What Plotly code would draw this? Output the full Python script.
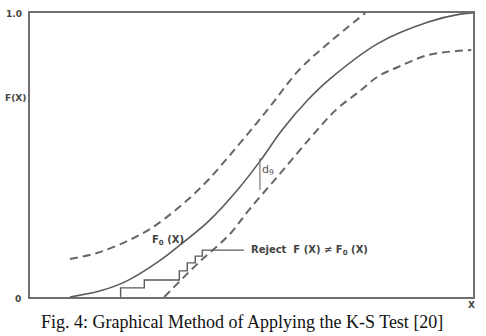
import plotly.graph_objects as go

# Hypothesised CDF F0(x) (solid)
f0_x = [0.090, 0.157, 0.218, 0.292, 0.344, 0.404, 0.472, 0.521, 0.569, 0.629, 0.674, 0.787, 0.899, 0.971, 1.0]
f0_y = [0.000, 0.021, 0.056, 0.127, 0.190, 0.268, 0.384, 0.482, 0.588, 0.697, 0.764, 0.894, 0.968, 0.996, 1.0]

# Upper confidence band (dashed)
up_x = [0.090, 0.151, 0.225, 0.285, 0.382, 0.465, 0.539, 0.607, 0.674, 0.757]
up_y = [0.134, 0.155, 0.201, 0.254, 0.380, 0.525, 0.665, 0.799, 0.894, 1.0]

# Lower confidence band (dashed)
lo_x = [0.303, 0.382, 0.449, 0.494, 0.562, 0.629, 0.690, 0.742, 0.787, 0.831, 0.899, 0.996]
lo_y = [0.000, 0.123, 0.218, 0.306, 0.430, 0.553, 0.658, 0.722, 0.778, 0.810, 0.852, 0.870]

# Empirical step function
st_x = [0.2045, 0.2045, 0.258, 0.337, 0.355, 0.373, 0.389, 0.483]
st_y = [0.000, 0.032, 0.060, 0.092, 0.120, 0.144, 0.165, 0.165]

# d9 deviation segment
d_x = [0.519, 0.519]
d_y = [0.489, 0.377]

line_col = "#5a5a5a"
fig = go.Figure()
fig.add_trace(go.Scatter(x=f0_x, y=f0_y, mode="lines", line=dict(color=line_col, width=1.6, shape="spline"), hoverinfo="skip"))
fig.add_trace(go.Scatter(x=up_x, y=up_y, mode="lines", line=dict(color="#666666", width=2, dash="8px,5px", shape="spline"), hoverinfo="skip"))
fig.add_trace(go.Scatter(x=lo_x, y=lo_y, mode="lines", line=dict(color="#666666", width=2, dash="8px,5px", shape="spline"), hoverinfo="skip"))
fig.add_trace(go.Scatter(x=st_x, y=st_y, mode="lines", line=dict(color=line_col, width=1.4, shape="hv"), hoverinfo="skip"))
fig.add_trace(go.Scatter(x=d_x, y=d_y, mode="lines", line=dict(color="#777777", width=1.2), hoverinfo="skip"))

lab_font = dict(family="DejaVu Sans", size=9, color="#444444")
big_font = dict(family="DejaVu Sans", size=10, color="#444444")

pw, ph = 445.0, 284.0
def px(xp):
    return (xp - 30) / pw
def py(yp):
    return (297 - yp) / ph

def A(x, y, text, font, xanchor="center", xref="paper", yref="paper"):
    return dict(x=x, y=y, xref=xref, yref=yref, text=text, showarrow=False,
                xanchor=xanchor, yanchor="middle", font=font)

annotations = [
    A(0.494, 0.165, "<b>Reject  F (X) ≠ F<sub>0</sub> (X)</b>", big_font, xanchor="left", xref="x", yref="y"),
    A(0.312, 0.200, "<b>F<sub>0</sub> (X)</b>", big_font, xref="x", yref="y"),
    A(0.538, 0.447, "d<sub>9</sub>", dict(family="DejaVu Sans", size=11, color="#555555"), xref="x", yref="y"),
    A(px(14), py(14), "<b>1.0</b>", lab_font),
    A(px(15), py(98), "<b>F(X)</b>", lab_font),
    A(px(18), py(299), "<b>0</b>", lab_font),
    A(px(473), py(305), "<b>X</b>", lab_font),
    A(px(243), py(322), "Fig. 4: Graphical Method of Applying the K-S Test [20]",
      dict(family="Liberation Serif", size=18, color="#111111")),
]

fig.update_layout(
    width=486, height=336,
    margin=dict(l=30, r=11, t=13, b=39),
    paper_bgcolor="white", plot_bgcolor="white",
    showlegend=False,
    xaxis=dict(range=[0, 1], showgrid=False, zeroline=False, showticklabels=False, ticks="",
               showline=True, mirror=True, linecolor="#707070", linewidth=2),
    yaxis=dict(range=[0, 1], showgrid=False, zeroline=False, showticklabels=False, ticks="",
               showline=True, mirror=True, linecolor="#707070", linewidth=2),
    annotations=annotations,
)
fig.write_html("out.html")
